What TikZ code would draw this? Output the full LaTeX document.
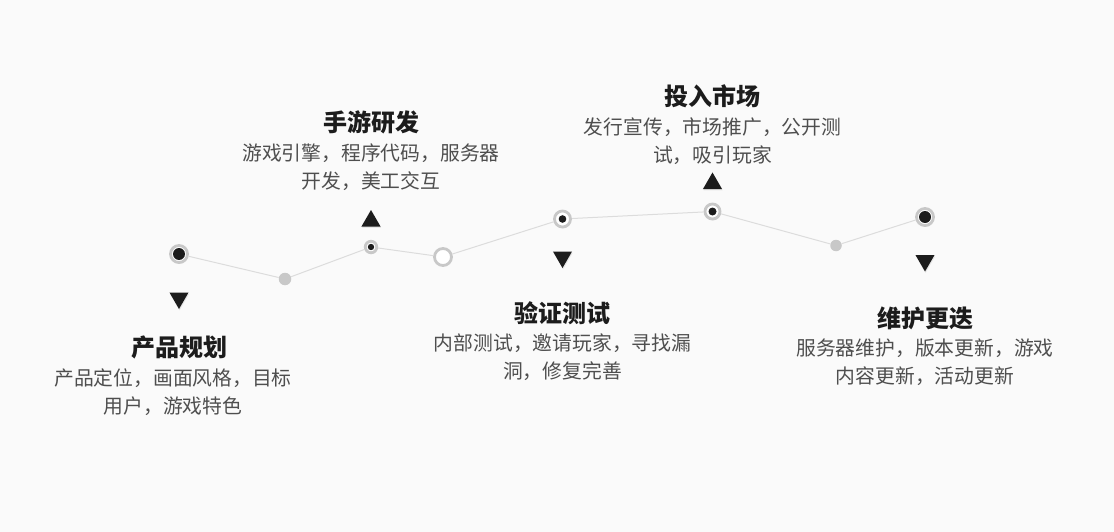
\documentclass[tikz,border=0pt]{standalone}
\usepackage{fontspec}
\newfontfamily\cjk{Noto Sans CJK SC}
\usetikzlibrary{positioning, shapes.geometric, shadows}
\definecolor{paper}{HTML}{FAFAFA}
\definecolor{ink}{HTML}{1C1C1C}
\definecolor{wire}{HTML}{DCDCDC}
\definecolor{halo}{HTML}{C8C8C8}
\definecolor{prose}{HTML}{4E4E4E}
\tikzset{
x=1pt, y=-1pt, % coordinates are pixels, y pointing down
link/.style={draw=wire, line width=1pt}, % the thin line joining the stages
soft shadow/.style={drop shadow={opacity=0.16, shadow xshift=0.6pt, shadow yshift=-1.4pt}}, % faint shade under marks
stage/.style 2 args={circle, draw=halo, line width=2.8pt, fill=white, inner sep=0pt, minimum size=#1, soft shadow,
  path picture={\fill[ink] (path picture bounding box.center) circle (#2);}}, % ring with a black dot
knot/.style={circle, fill=halo, inner sep=0pt, minimum size=#1}, % plain grey dot
hollow/.style={circle, draw=halo, line width=2.8pt, fill=white, inner sep=0pt, minimum size=17pt}, % empty ring
tri down/.style={regular polygon, regular polygon sides=3, shape border rotate=180, fill=ink, inner sep=0pt, minimum size=22pt, soft shadow},
tri up/.style={regular polygon, regular polygon sides=3, fill=ink, inner sep=0pt, minimum size=22pt, soft shadow},
phase title/.style={font=\cjk\bfseries\fontsize{24}{28}\selectfont, text=ink, inner sep=0pt},
phase text/.style={font=\cjk\fontsize{19.8}{28}\selectfont, text=prose, align=center, inner sep=0pt},
}

\begin{document}
\begin{tikzpicture}
      \fill[paper] (0,0) rectangle (1114,532);
      \useasboundingbox (0,0) rectangle (1114,532);

      % points on the line
      \node[stage={17pt}{6pt}] (p1) at (179,254) {};
      \node[knot=12.5pt] (p2) at (285,279) {};
      \node[stage={11.5pt}{3.2pt}] (p3) at (371,247) {};
      \node[hollow] (p4) at (443,257) {};
      \node[stage={16pt}{3.8pt}] (p5) at (562.5,219) {};
      \node[stage={15pt}{4pt}] (p6) at (712.5,211.5) {};
      \node[knot=11.5pt] (p7) at (836,245.5) {};
      \node[stage={17pt}{6pt}] (p8) at (925,217) {};

      \draw[link] (p1) -- (p2) -- (p3) -- (p4) -- (p5) -- (p6) -- (p7) -- (p8);

      % stage 1
      \node[tri down, node distance=44pt, below of=p1] (t1) {};
      \node[phase title, node distance=49pt, below of=t1] (h1) {产品规划};
      \node[phase text, node distance=45pt, below of=h1, xshift=-6pt] (b1) {产品定位，画面风格，目标\\用户，游戏特色};

      % stage 2
      \node[tri up, node distance=26pt, above of=p3] (t2) {};
      \node[phase title, node distance=99pt, above of=t2] (h2) {手游研发};
      \node[phase text, node distance=45pt, below of=h2] (b2) {游戏引擎，程序代码，服务器\\开发，美工交互};

      % stage 3
      \node[tri down, node distance=38pt, below of=p5] (t3) {};
      \node[phase title, node distance=56pt, below of=t3] (h3) {验证测试};
      \node[phase text, node distance=44pt, below of=h3] (b3) {内部测试，邀请玩家，寻找漏\\洞，修复完善};

      % stage 4
      \node[tri up, node distance=28pt, above of=p6] (t4) {};
      \node[phase title, node distance=87pt, above of=t4] (h4) {投入市场};
      \node[phase text, node distance=45pt, below of=h4] (b4) {发行宣传，市场推广，公开测\\试，吸引玩家};

      % stage 5
      \node[tri down, node distance=43.5pt, below of=p8] (t5) {};
      \node[phase title, node distance=57.5pt, below of=t5] (h5) {维护更迭};
      \node[phase text, node distance=44pt, below of=h5] (b5) {服务器维护，版本更新，游戏\\内容更新，活动更新};
\end{tikzpicture}
\end{document}
